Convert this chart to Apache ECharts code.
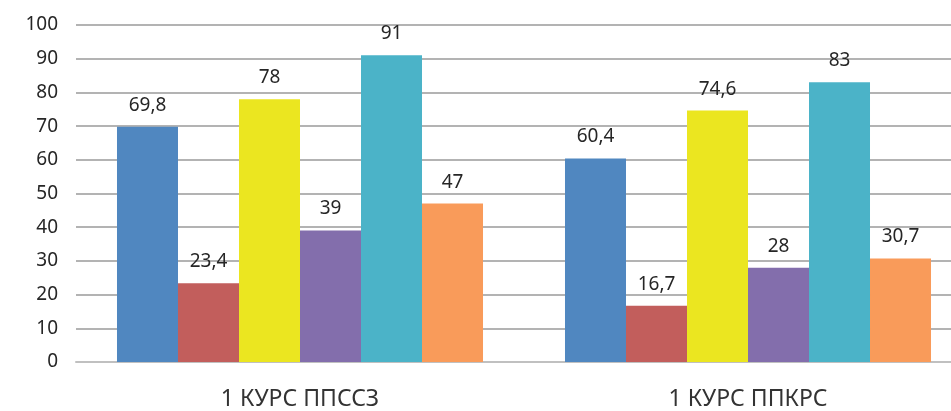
<!DOCTYPE html>
<html>
<head>
<meta charset="utf-8">
<script src="https://cdn.jsdelivr.net/npm/echarts@6/dist/echarts.min.js"></script>
<style>
  html, body { margin: 0; padding: 0; background: #fff; overflow: hidden; }
  #chart { width: 972px; height: 411px; }
</style>
</head>
<body>
<div id="chart"></div>
<script>
// категории
var categories = ["1 КУРС ППССЗ", "1 КУРС ППКРС"];
// ряды (значения по категориям)
var s1 = [69.8, 60.4];
var s2 = [23.4, 16.7];
var s3 = [78, 74.6];
var s4 = [39, 28];
var s5 = [91, 83];
var s6 = [47, 30.7];
var seriesData = [s1, s2, s3, s4, s5, s6];
var colors = ["#5087c0", "#c25e5c", "#ebe620", "#836eac", "#4bb3c8", "#f99b5a"];

// chart is a bit wider than the window: the right part is cut off like in the original
var chart = echarts.init(document.getElementById("chart"));

var series = seriesData.map(function (d, i) {
  return {
    name: "s" + (i + 1),
    type: "bar",
    data: d,
    barGap: "0%",
    barCategoryGap: "18.3%",
    itemStyle: { color: colors[i] },
    label: {
      show: true,
      position: "top",
      distance: 12,
      color: "#262626",
      fontSize: 19,
      fontFamily: "Noto Sans",
      formatter: function (p) {
        return String(p.value).replace(".", ",");
      }
    }
  };
});

var option = {
  animation: false,
  grid: { left: 76, right: 0, top: 25, bottom: 48 },
  xAxis: {
    type: "category",
    data: categories,
    axisTick: { show: false },
    axisLine: { lineStyle: { color: "#c0c0c0", width: 2 } },
    axisLabel: {
      color: "#333333",
      fontSize: 23,
      fontFamily: "Noto Sans",
      margin: 26
    }
  },
  yAxis: {
    type: "value",
    min: 0,
    max: 100,
    interval: 10,
    axisLine: { show: false },
    axisTick: { show: false },
    splitLine: { lineStyle: { color: "#9a9a9a", width: 1.5 } },
    axisLabel: {
      color: "#262626",
      fontSize: 19,
      fontFamily: "Noto Sans",
      margin: 18
    }
  },
  series: series
};

chart.setOption(option);
</script>
</body>
</html>
